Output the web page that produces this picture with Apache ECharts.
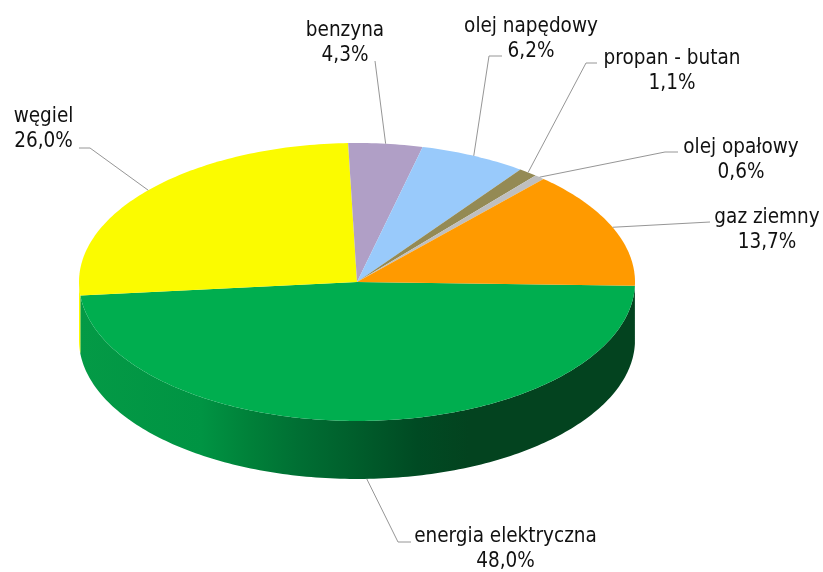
<!DOCTYPE html>
<html><head><meta charset="utf-8">
<style>html,body{margin:0;padding:0;background:#fff}#c{width:823px;height:572px}</style>
<script src="https://cdn.jsdelivr.net/npm/echarts@6/dist/echarts.min.js"></script>
</head><body><div id="c"></div>
<script>
// Data, clockwise from the right-hand edge of the pie
const categories = ['energia elektryczna','węgiel','benzyna','olej napędowy','propan - butan','olej opałowy','gaz ziemny'];
const values = [48.0,26.0,4.3,6.2,1.1,0.6,13.7];
const colors = ['#00AE4F','#FBFB00','#B09FC6','#99CAFB','#948A54','#BFBFBF','#FF9A00'];

// Layout of the tilted pie
const CX=357, CY=282, RX=278, RY=139, DEPTH=58, START=1.5;
const LINE_H=25;
// Label anchors [centre x, centre y of first line] and leader bends, by category order
const labelPos = [[505.5,537],[43.5,117],[345,31],[531,27],[672,59],[741,148],[767,218]];
const labelElbow = [[[398,542],[411,542]],[[90,148],[79,148]],[[375,61]],[[489,56],[502,56]],[[586,63],[597,63]],[[665,152],[678,152]],[[710,222]]];

const chart = echarts.init(document.getElementById('c'),null,{renderer:'canvas'});
const rad=d=>d*Math.PI/180;
const pt=(t,dy=0)=>[CX+RX*Math.cos(rad(t)),CY+RY*Math.sin(rad(t))+dy];
const total=values.reduce((a,b)=>a+b,0);
const spans=[];let acc=START;
values.forEach(v=>{const s=acc;acc+=v/total*360;spans.push([s,acc]);});
function arc(a,b,dy=0){const n=Math.max(2,Math.ceil(Math.abs(b-a)));const o=[];for(let i=0;i<=n;i++)o.push(pt(a+(b-a)*i/n,dy));return o;}

const wallGradient={type:'linear',global:true,x:79,y:0,x2:635,y2:0,colorStops:[
 {offset:0,color:'#049A46'},{offset:.22,color:'#009443'},{offset:.31,color:'#008039'},{offset:.40,color:'#006E33'},
 {offset:.49,color:'#005F2C'},{offset:.61,color:'#004A23'},{offset:.70,color:'#03431F'},{offset:1,color:'#03431F'}]};

function renderItem(params,api){
 const i=api.value(0),[a,b]=spans[i],ch=[];
 // side wall: the part of this slice's rim on the front half
 const s=Math.max(a,0),e=Math.min(b,180);
 if(e>s){
  const top=arc(s,e),bot=arc(e,s,DEPTH);
  ch.push({type:'polygon',shape:{points:top.concat(bot)},style:{fill:i===0?wallGradient:colors[i]}});
 }
 ch.push({type:'polygon',shape:{points:[[CX,CY]].concat(arc(a,b))},style:{fill:colors[i]}});
 return {type:'group',children:ch};
}
function renderLabel(params,api){
 const i=api.value(0),[a,b]=spans[i],m=(a+b)/2;
 const anchor=pt(m,(m>0&&m<180)?DEPTH:0);
 const [lx,ly]=labelPos[i];
 return {type:'group',children:[
  {type:'polyline',shape:{points:[anchor].concat(labelElbow[i])},style:{stroke:'#969696',lineWidth:1,fill:null}},
  {type:'text',style:{x:lx,y:ly-LINE_H/2,text:categories[i]+'\n'+values[i].toFixed(1).replace('.',',')+'%',
    fill:'#111',font:'20.5px "DejaVu Sans Condensed","DejaVu Sans"',textAlign:'center',textVerticalAlign:'top',lineHeight:LINE_H}}
 ]};
}
const rows=categories.map((c,i)=>[i,values[i]]);
chart.setOption({animation:false,backgroundColor:'#fff',
 series:[
  {type:'custom',coordinateSystem:'none',data:rows,renderItem,silent:true},
  {type:'custom',coordinateSystem:'none',data:rows,renderItem:renderLabel,silent:true,z:5}
 ]});
</script></body></html>
